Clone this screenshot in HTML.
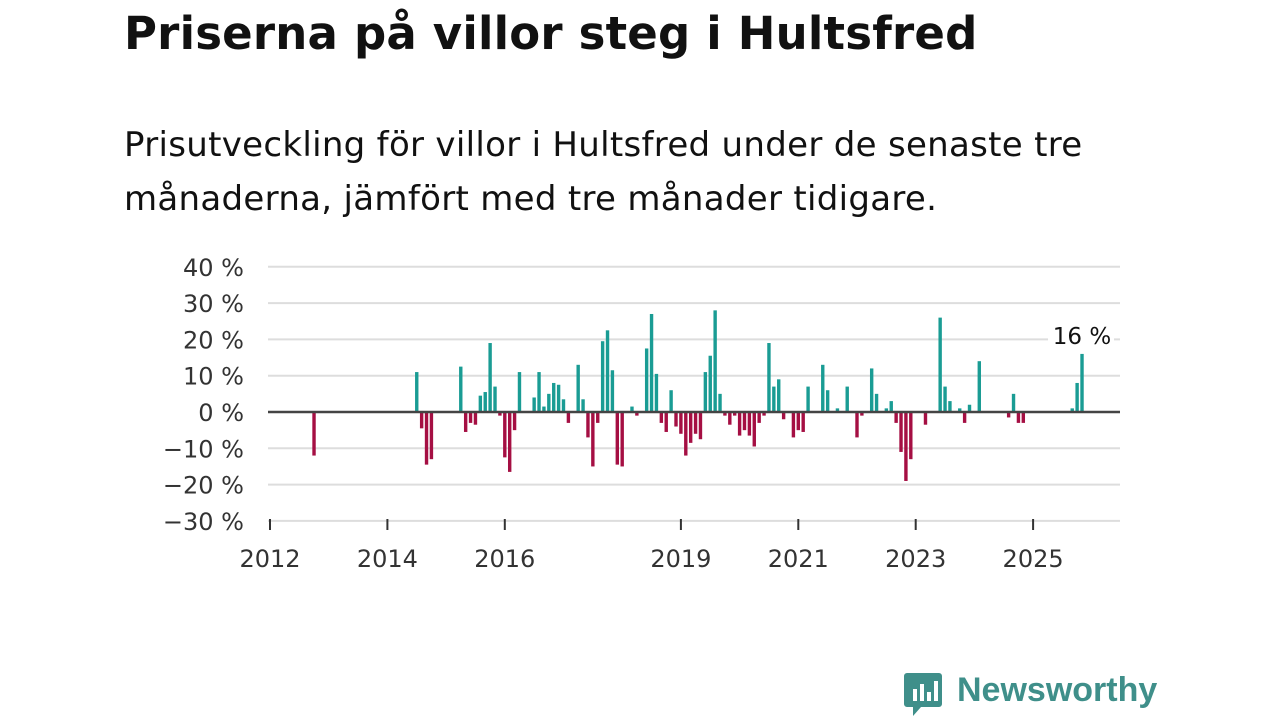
<!DOCTYPE html>
<html><head><meta charset="utf-8"><style>
body{margin:0;width:1280px;height:720px;background:#fff;font-family:"DejaVu Sans","Liberation Sans",sans-serif;overflow:hidden;position:relative}
h1{position:absolute;left:124px;top:7px;margin:0;font-size:45px;font-weight:bold;color:#111;white-space:nowrap;letter-spacing:0.2px}
p{position:absolute;left:124px;top:118px;margin:0;font-size:34px;line-height:54px;color:#111;white-space:nowrap;letter-spacing:0.3px}
svg{position:absolute;left:0;top:0}
</style></head><body>
<h1>Priserna på villor steg i Hultsfred</h1>
<p>Prisutveckling för villor i Hultsfred under de senaste tre<br>månaderna, jämfört med tre månader tidigare.</p>
<svg id="c" width="1280" height="720" style="font-family:'DejaVu Sans',sans-serif"></svg>
<script>
const months=[9,30,31,32,33,39,40,41,42,43,44,45,46,47,48,49,50,51,54,55,56,57,58,59,60,61,63,64,65,66,67,68,69,70,71,72,74,75,77,78,79,80,81,82,83,84,85,86,87,88,89,90,91,92,93,94,95,96,97,98,99,100,101,102,103,104,105,107,108,109,110,113,114,116,118,120,121,123,124,126,127,128,129,130,131,134,137,138,139,141,142,143,145,151,152,153,154,164,165,166];
const values=[-12,11,-4.5,-14.5,-13,12.5,-5.5,-3,-3.5,4.5,5.5,19,7,-1,-12.5,-16.5,-5,11,4,11,1.5,5,8,7.5,3.5,-3,13,3.5,-7,-15,-3,19.5,22.5,11.5,-14.5,-15,1.5,-1,17.5,27,10.5,-3,-5.5,6,-4,-6,-12,-8.5,-6,-7.5,11,15.5,28,5,-1,-3.5,-1,-6.5,-5,-6.5,-9.5,-3,-1,19,7,9,-2,-7,-5,-5.5,7,13,6,1,7,-7,-1,12,5,1,3,-3,-11,-19,-13,-3.5,26,7,3,1,-3,2,14,-1.5,5,-3,-3,1,8,16];
const yTicks=[40,30,20,10,0,-10,-20,-30];
const xTickYears=[2012,2014,2016,2019,2021,2023,2025];
const svg=document.getElementById('c');const NS='http://www.w3.org/2000/svg';
const y=v=>412-v*3.63;
const x=m=>270+m*58.7/12;
function mk(t,a){const e=document.createElementNS(NS,t);for(const k in a)e.setAttribute(k,a[k]);svg.appendChild(e);return e;}
yTicks.forEach(v=>{
 const g=mk('line',{x1:268,x2:1120,y1:y(v),y2:y(v),stroke:'#ddd','stroke-width':2});
 
 
 const t=mk('text',{x:244,y:y(v)+9,'text-anchor':'end','font-size':24,fill:'#333'});
 t.textContent=(v<0?'\u2212'+(-v):v)+' %';
 
 
});
months.forEach((m,i)=>{
 const v=values[i];
 const r=mk('rect',{x:x(m)-1.7,width:3.4,y:v>=0?y(v):y(0),height:Math.abs(y(v)-y(0)),fill:v>=0?'#1a9c94':'#a50f43'});
 
 
});
const z=mk('line',{x1:268,x2:1120,y1:y(0),y2:y(0),stroke:'#444','stroke-width':2.5});


xTickYears.forEach(yr=>{
 const px=x((yr-2012)*12);
 const l=mk('line',{x1:px,x2:px,y1:519,y2:530,stroke:'#333','stroke-width':2});
 
 
 const t=mk('text',{x:px,y:567,'text-anchor':'middle','font-size':24,fill:'#333'});
 t.textContent=yr;
 
 
});
const lm=months[months.length-1],lv=values[values.length-1];
const bg=mk('rect',{x:x(lm)-34,y:y(lv)-34,width:66,height:28,fill:'#fff'});


const lb=mk('text',{x:x(lm),y:y(lv)-10,'text-anchor':'middle','font-size':23,fill:'#111'});
lb.textContent=lv+' %';


</script>
<div style="position:absolute;left:903px;top:671px;display:flex;align-items:center">
 <svg width="40" height="46" style="position:static"><path d="M4 2h32a3 3 0 0 1 3 3v28a3 3 0 0 1-3 3H18l-8 9v-9H4a3 3 0 0 1-3-3V5a3 3 0 0 1 3-3z" fill="#3f8f8a"/><rect x="10" y="18" width="4" height="12" fill="#fff"/><rect x="17" y="13" width="4" height="17" fill="#fff"/><rect x="24" y="21" width="4" height="9" fill="#fff"/><rect x="31" y="10" width="4" height="20" fill="#fff"/></svg>
 <span style="font-family:'Liberation Sans',sans-serif;font-size:34px;font-weight:bold;color:#3f8f8a;margin-left:14px;margin-top:-8px">Newsworthy</span>
</div>
</body></html>
